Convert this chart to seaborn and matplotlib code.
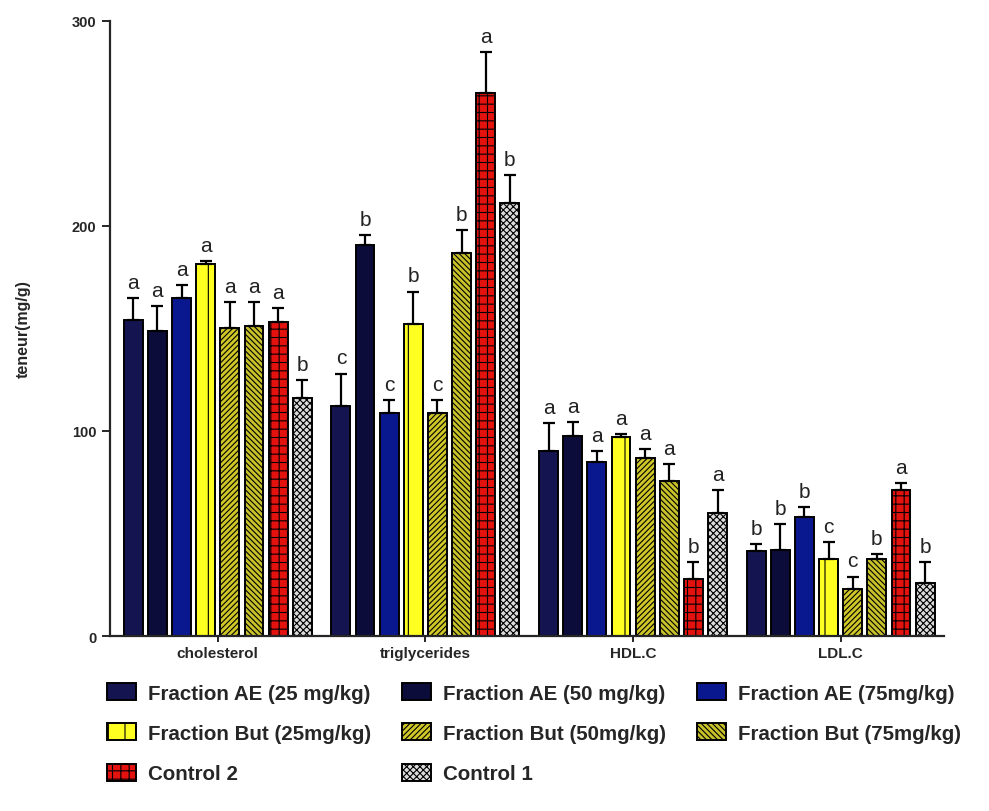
import numpy as np
import pandas as pd
import matplotlib.pyplot as plt
import seaborn as sns

# ---- data ----
params = ["cholesterol", "triglycerides", "HDL.C", "LDL.C"]
groups = ["Fraction AE (25 mg/kg)", "Fraction AE (50 mg/kg)", "Fraction AE (75mg/kg)",
          "Fraction But (25mg/kg)", "Fraction But (50mg/kg)", "Fraction But (75mg/kg)",
          "Control 2", "Control 1"]

# mean per group, one list per parameter (same order as groups)
chol_mean = [154, 149, 165, 181.5, 150, 151, 153, 116]
trig_mean = [112, 190.5, 109, 152, 109, 187, 265, 211]
hdl_mean = [90, 97.5, 85, 97, 87, 75.5, 28, 60]
ldl_mean = [41.5, 42, 58, 37.5, 23, 37.5, 71, 26]

# upper error (SD)
chol_err = [11, 12, 6, 1.5, 13, 12, 7, 9]
trig_err = [16, 5, 6, 16, 6, 11, 20, 14]
hdl_err = [14, 7, 5, 1.5, 4, 8.5, 8, 11]
ldl_err = [3.5, 12.5, 5, 8.5, 6, 2.5, 3.5, 10]

# statistical letters
chol_lab = list("aaaaaaab")
trig_lab = list("cbcbcbab")
hdl_lab = list("aaaaaaba")
ldl_lab = list("bbbccbab")

colors = ["#141450", "#0c0c3a", "#0a1890", "#ffff22", "#cfc728", "#c8c22a", "#e3120f", "#dcdcdc"]
hatches = ["", "", "", "|", "//////", "\\\\\\\\\\\\", "++", "xxxxx"]

means = [chol_mean, trig_mean, hdl_mean, ldl_mean]
errs = [chol_err, trig_err, hdl_err, ldl_err]
labs = [chol_lab, trig_lab, hdl_lab, ldl_lab]

rows = []
for p, m, e, l in zip(params, means, errs, labs):
    for g, v, s, t in zip(groups, m, e, l):
        rows.append({"param": p, "group": g, "value": v, "err": s, "letter": t})
df = pd.DataFrame(rows)

sns.set_style("ticks")
plt.rcParams['font.family'] = ['Liberation Sans', 'DejaVu Sans']
plt.rcParams['hatch.linewidth'] = 0.8

fig = plt.figure(figsize=(9.89, 8.12), dpi=100)
ax = fig.add_axes([0.111, 0.2155, 0.844, 0.7575])

sns.barplot(data=df, x="param", y="value", hue="group", order=params, hue_order=groups,
            palette=dict(zip(groups, colors)), saturation=1, errorbar=None, width=0.93,
            gap=0.22, edgecolor="black", linewidth=1.4, legend=False, ax=ax)

# hatches, error bars and letters from the drawn bars
for gi, (cont, h) in enumerate(zip(ax.containers, hatches)):
    sub = df[df["group"] == groups[gi]].set_index("param").loc[params]
    xs, ys = [], []
    for bar in cont:
        bar.set_hatch(h)
        xs.append(bar.get_x() + bar.get_width() / 2)
        ys.append(bar.get_height())
    xs = np.array(xs)
    ys = np.array(ys)
    e = sub["err"].values
    ax.errorbar(xs, ys, yerr=[np.zeros_like(e), e], fmt="none", ecolor="black",
                elinewidth=1.6, capsize=4, capthick=1.6, zorder=1)
    for x, y, s, t in zip(xs, ys, e, sub["letter"].values):
        ax.text(x, y + s + 3, t, ha="center", va="bottom", fontsize=15, color="#222222")

ax.set_xlim(-0.52, 3.5)
ax.set_ylim(0, 300)
ax.set_yticks([0, 100, 200, 300])
ax.set_xlabel("")
ax.set_ylabel("teneur(mg/g)", fontsize=11.5, fontweight="bold", labelpad=30)
ax.tick_params(axis="y", labelsize=10.5, width=1.4, length=6)
ax.tick_params(axis="x", labelsize=11, width=1.4, length=4)
for lbl in ax.get_xticklabels() + ax.get_yticklabels():
    lbl.set_fontweight("bold")
sns.despine(ax=ax)
for sp in ["left", "bottom"]:
    ax.spines[sp].set_linewidth(1.6)

# legend filled row by row (matplotlib fills column-wise)
order = [0, 3, 6, 1, 4, 7, 2, 5]
handles = [ax.containers[i] for i in order]
fig.legend(handles, [groups[i] for i in order], ncol=3, loc="upper left",
           bbox_to_anchor=(0.098, 0.170), frameon=False, borderpad=0,
           prop={"weight": "bold", "size": 14.8}, handlelength=1.4, handleheight=0.9,
           handletextpad=0.6, columnspacing=1.5, labelspacing=1.0)

fig.savefig("out.png", dpi=100)
